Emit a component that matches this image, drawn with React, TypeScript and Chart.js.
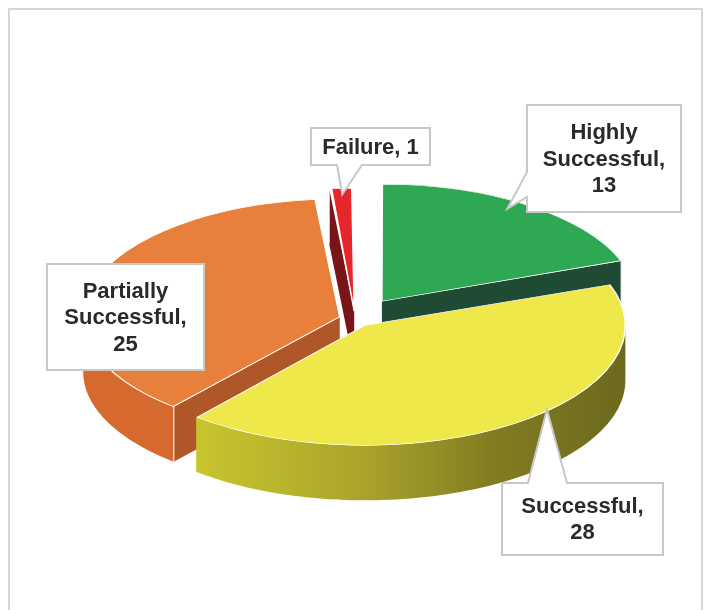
import React, { useEffect, useRef } from 'react';
import { Chart, registerables } from 'chart.js';

Chart.register(...registerables);

// ---- data ----
const categories = ['Highly Successful', 'Successful', 'Partially Successful', 'Failure'];
const counts = [13, 28, 25, 1];

// ---- styles ----
const topColors = ['#2ea852', '#eee84a', '#e8803c', '#e5262b'];
const cutColors = ['#1f4b35', '#8a8624', '#b0572a', '#7a1517'];
const rimColors = ['#1f4b35', 'gradient', '#d66a2e', '#7a1517'];
const explodePx = [47, 17, 16, 17];

const TILT = 0.46;
const DEPTH = 55;
const RADIUS = 252;

type Box = {
  x: number; y: number; w: number; h: number;
  side: 'left' | 'top' | 'bottom' | null; a: number; b: number;
  tipFrac: number; tipDeg: number;
};
const labelBoxes: Box[] = [
  { x: 527, y: 105, w: 154, h: 107, side: 'left', a: 172, b: 197, tipFrac: 0.93, tipDeg: -3 },
  { x: 502, y: 483, w: 161, h: 72, side: 'top', a: 528, b: 567, tipFrac: 0.99, tipDeg: -10 },
  { x: 47, y: 264, w: 157, h: 106, side: null, a: 0, b: 0, tipFrac: 0, tipDeg: 0 },
  { x: 311, y: 128, w: 119, h: 37, side: 'bottom', a: 337, b: 362, tipFrac: 0.95, tipDeg: 0 },
];

function geom(arc: any) {
  const p = arc.getProps(['x', 'y', 'startAngle', 'endAngle', 'outerRadius'], true);
  const off = (arc.options.offset || 0) / 4;
  const mid = (p.startAngle + p.endAngle) / 2;
  const circ = p.endAngle - p.startAngle;
  const ox = p.x + Math.cos(mid) * off;
  const oy = p.y + Math.sin(mid) * off;
  const r = p.outerRadius + off * (1 - Math.sin(Math.min(Math.PI, circ)));
  return { ox, oy, r, s: p.startAngle, e: p.endAngle, mid };
}

const pie3d = {
  id: 'pie3d',
  beforeDraw(chart: any) {
    const ctx = chart.ctx;
    ctx.save();
    ctx.fillStyle = '#ffffff';
    ctx.fillRect(0, 0, chart.width, chart.height);
    ctx.strokeStyle = '#d6d6d6';
    ctx.lineWidth = 2;
    ctx.strokeRect(9, 9, 693, 640);
    ctx.restore();
  },
  beforeDatasetsDraw(chart: any) {
    const ctx = chart.ctx;
    const ca = chart.chartArea;
    const cy = (ca.top + ca.bottom) / 2;
    const proj = (x: number, y: number) => [x, cy + (y - cy) * TILT];
    const arcs = chart.getDatasetMeta(0).data;
    const gs = arcs.map((a: any, i: number) => ({ i, g: geom(a) }));
    gs.sort((A: any, B: any) => A.g.oy - B.g.oy);

    ctx.save();
    for (const { i, g } of gs) {
      const ranges: [number, number][] = [];
      for (let n = -1; n <= 2; n++) {
        const lo = Math.max(g.s, n * 2 * Math.PI);
        const hi = Math.min(g.e, n * 2 * Math.PI + Math.PI);
        if (hi > lo) ranges.push([lo, hi]);
      }
      for (const [a0, a1] of ranges) {
        ctx.beginPath();
        const N = 80;
        for (let k = 0; k <= N; k++) {
          const t = a0 + ((a1 - a0) * k) / N;
          const [X, Y] = proj(g.ox + g.r * Math.cos(t), g.oy + g.r * Math.sin(t));
          if (k === 0) ctx.moveTo(X, Y); else ctx.lineTo(X, Y);
        }
        for (let k = N; k >= 0; k--) {
          const t = a0 + ((a1 - a0) * k) / N;
          const [X, Y] = proj(g.ox + g.r * Math.cos(t), g.oy + g.r * Math.sin(t));
          ctx.lineTo(X, Y + DEPTH);
        }
        ctx.closePath();
        if (rimColors[i] === 'gradient') {
          const gr = ctx.createLinearGradient(g.ox - g.r * 0.7, 0, g.ox + g.r, 0);
          gr.addColorStop(0, '#cac82f');
          gr.addColorStop(0.4, '#aaa52b');
          gr.addColorStop(0.7, '#827d22');
          gr.addColorStop(1, '#6c691d');
          ctx.fillStyle = gr;
        } else {
          ctx.fillStyle = rimColors[i];
        }
        ctx.fill();
      }
      const faces: number[] = [];
      if (Math.cos(g.s) < -1e-9) faces.push(g.s);
      if (Math.cos(g.e) > 1e-9) faces.push(g.e);
      for (const a of faces) {
        const [ax, ay] = proj(g.ox, g.oy);
        const [ex, ey] = proj(g.ox + g.r * Math.cos(a), g.oy + g.r * Math.sin(a));
        ctx.beginPath();
        ctx.moveTo(ax, ay);
        ctx.lineTo(ex, ey);
        ctx.lineTo(ex, ey + DEPTH);
        ctx.lineTo(ax, ay + DEPTH);
        ctx.closePath();
        ctx.fillStyle = cutColors[i];
        ctx.fill();
        ctx.strokeStyle = 'rgba(255,255,255,0.85)';
        ctx.lineWidth = 1.2;
        ctx.beginPath();
        ctx.moveTo(ex, ey);
        ctx.lineTo(ex, ey + DEPTH);
        ctx.stroke();
      }
    }
    ctx.restore();

    ctx.save();
    ctx.translate(0, cy);
    ctx.scale(1, TILT);
    ctx.translate(0, -cy);
  },
  afterDatasetsDraw(chart: any) {
    chart.ctx.restore();
  },
  afterDraw(chart: any) {
    const ctx = chart.ctx;
    const ca = chart.chartArea;
    const cy = (ca.top + ca.bottom) / 2;
    const proj = (x: number, y: number) => [x, cy + (y - cy) * TILT];
    const arcs = chart.getDatasetMeta(0).data;
    const data = chart.data.datasets[0].data as number[];
    const labels = chart.data.labels as string[];
    ctx.save();
    ctx.font = 'bold 22px "Liberation Sans", Arial, sans-serif';
    ctx.textAlign = 'center';
    ctx.textBaseline = 'middle';
    labelBoxes.forEach((bx, i) => {
      const g = geom(arcs[i]);
      const ang = g.mid + (bx.tipDeg * Math.PI) / 180;
      const [tx, ty] = proj(g.ox + g.r * bx.tipFrac * Math.cos(ang), g.oy + g.r * bx.tipFrac * Math.sin(ang));
      const { x, y, w, h } = bx;
      ctx.beginPath();
      ctx.moveTo(x, y);
      if (bx.side === 'top') { ctx.lineTo(bx.a, y); ctx.lineTo(tx, ty); ctx.lineTo(bx.b, y); }
      ctx.lineTo(x + w, y);
      ctx.lineTo(x + w, y + h);
      if (bx.side === 'bottom') { ctx.lineTo(bx.b, y + h); ctx.lineTo(tx, ty); ctx.lineTo(bx.a, y + h); }
      ctx.lineTo(x, y + h);
      if (bx.side === 'left') { ctx.lineTo(x, bx.b); ctx.lineTo(tx, ty); ctx.lineTo(x, bx.a); }
      ctx.closePath();
      ctx.fillStyle = '#ffffff';
      ctx.fill();
      ctx.strokeStyle = '#c8c8c8';
      ctx.lineWidth = 2;
      ctx.stroke();

      const words = `${labels[i]}, ${data[i]}`.split(' ');
      const maxW = w - 14;
      const lines: string[] = [];
      let cur = '';
      for (const wd of words) {
        const test = cur ? cur + ' ' + wd : wd;
        if (ctx.measureText(test).width > maxW && cur) { lines.push(cur); cur = wd; } else cur = test;
      }
      if (cur) lines.push(cur);
      const lh = 26.5;
      const y0 = y + h / 2 - ((lines.length - 1) * lh) / 2;
      ctx.fillStyle = '#2a2a2a';
      lines.forEach((ln, k) => ctx.fillText(ln, x + w / 2, y0 + k * lh + 1));
    });
    ctx.restore();
  },
};

export default function App() {
  const ref = useRef<HTMLCanvasElement>(null);
  useEffect(() => {
    const chart = new Chart(ref.current as HTMLCanvasElement, {
      type: 'pie',
      data: {
        labels: categories,
        datasets: [
          {
            data: counts,
            backgroundColor: topColors,
            borderColor: '#ffffff',
            borderWidth: 1.5,
            offset: explodePx.map((v) => v * 4),
            radius: RADIUS,
            clip: false,
          } as any,
        ],
      },
      options: {
        responsive: false,
        animation: false,
        devicePixelRatio: 1,
        events: [],
        layout: { padding: { left: 4, right: 0, top: 28, bottom: 0 } },
        plugins: { legend: { display: false }, tooltip: { enabled: false } },
      },
      plugins: [pie3d],
    });
    return () => chart.destroy();
  }, []);
  return (
    <div style={{ position: 'fixed', left: 0, top: 0, width: 706, height: 610, background: '#fff' }}>
      <canvas ref={ref} width={706} height={610} style={{ display: 'block', width: 706, height: 610 }} />
    </div>
  );
}
